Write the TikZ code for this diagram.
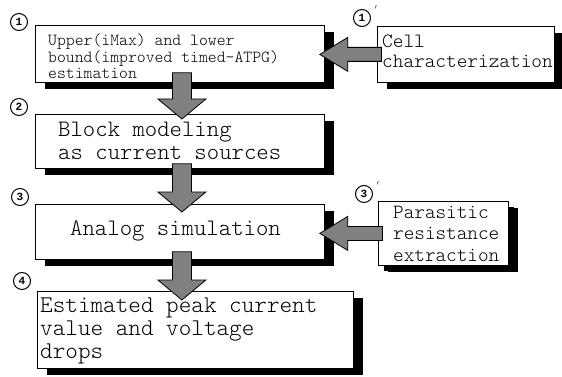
\documentclass[tikz,border=0pt]{standalone}
\usepackage{fontspec}
\newfontfamily\monofont{Latin Modern Mono Light}
\newfontfamily\digitfont{Liberation Mono}
\usetikzlibrary{calc,shadows}
\newcommand\fatdown[4]{%
  \coordinate (sA) at ($(#1.south)+(2,-#3)$);
  \coordinate (tA) at (sA |- #2.north);
  \coordinate (tipA) at ($(tA)+(0,#4)$);
  \draw[fat] ($(sA)+(-9.5,0)$) -- ($(sA)+(9.5,0)$) -- ($(tipA)+(9.5,-20)$) -- ($(tipA)+(24,-20)$) -- (tipA)
     -- ($(tipA)+(-24,-20)$) -- ($(tipA)+(-9.5,-20)$) -- cycle;}
\newcommand\fatleft[2]{%
  \coordinate (sB) at ($(#1.west)+(4.5,0)$);
  \coordinate (tB) at (sB -| #2.east);
  \coordinate (tipB) at ($(tB)+(-5,0)$);
  \draw[fat] ($(sB)+(0,-7)$) -- ($(tipB)+(28,-7)$) -- ($(tipB)+(28,-17)$) -- (tipB)
     -- ($(tipB)+(28,17)$) -- ($(tipB)+(28,7)$) -- ($(sB)+(0,7)$) -- cycle;}
\begin{document}
\begin{tikzpicture}[x=1pt,y=-1pt,
  box/.style={draw, fill=white, line width=0.8pt, inner sep=0pt, anchor=north west,
    general shadow={fill=black, shadow xshift=10pt, shadow yshift=-7pt}},
  boxs/.style={box, general shadow={fill=black, shadow xshift=6pt, shadow yshift=-6pt}},
  txt/.style={anchor=base west, inner sep=0pt, font=\monofont},
  num/.style={circle, draw, line width=1pt, minimum size=17pt, inner sep=0pt,
    font=\digitfont\bfseries\fontsize{11}{11}\selectfont},
  fat/.style={fill=black!50, draw=black, line width=0.8pt, line join=miter}]
\useasboundingbox (0,0) rectangle (562,377);

% boxes
\node[box, minimum width=289pt, minimum height=57pt] (b1) at (35,25) {};
\node[box, minimum width=289pt, minimum height=54pt] (b2) at (35,114) {};
\node[box, minimum width=289pt, minimum height=55pt] (b3) at (35,204) {};
\node[box, minimum width=316pt, minimum height=77pt] (b4) at (37,291) {};
\node[box, minimum width=177pt, minimum height=56pt] (bc) at (377,26) {};
\node[boxs, minimum width=130pt, minimum height=64pt] (bp) at (378,201) {};

% texts
\node[txt] (t1) at (48,46) {\parbox[t]{300pt}{\fontsize{16.9pt}{15.5pt}\selectfont Upper(iMax) and lower\\bound(improved timed-ATPG)\\estimation}};
\node[txt] (t2) at (58,137) {\parbox[t]{300pt}{\fontsize{23.6pt}{22pt}\selectfont Block modeling\\as current sources}};
\node[txt] (t3) at (70,235) {\fontsize{23.6pt}{21pt}\selectfont Analog simulation};
\node[txt] (t4) at (40,312) {\parbox[t]{330pt}{\fontsize{24pt}{23pt}\selectfont Estimated peak current\\value and voltage\\drops}};
\node[txt] (tc) at (382,48) {\parbox[t]{180pt}{\fontsize{20.3pt}{20pt}\selectfont Cell\\characterization}};
\node[txt] (tp) at (393,218) {\parbox[t]{120pt}{\fontsize{20.2pt}{21.5pt}\selectfont Parasitic\\resistance\\extraction}};

% arrows
\fatdown{b1}{b2}{10}{5}
\fatdown{b2}{b3}{5}{8}
\fatdown{b3}{b4}{8}{9}
\fatleft{bc}{b1}
\fatleft{bp}{b3}

% circled numbers
\node[num] (c1) at (19,22) {1};
\node[num] (c2) at (19,107) {2};
\node[num] (c3) at (20,197) {3};
\node[num] (c4) at (22,281) {4};
\node[num] (c1p) at (362,18) {1};
\node[num] (c3p) at (364,194) {3};
\node[inner sep=0pt] (p1) at (376,9) {$'$};
\node[inner sep=0pt] (p3) at (378,185) {$'$};
\end{tikzpicture}
\end{document}
